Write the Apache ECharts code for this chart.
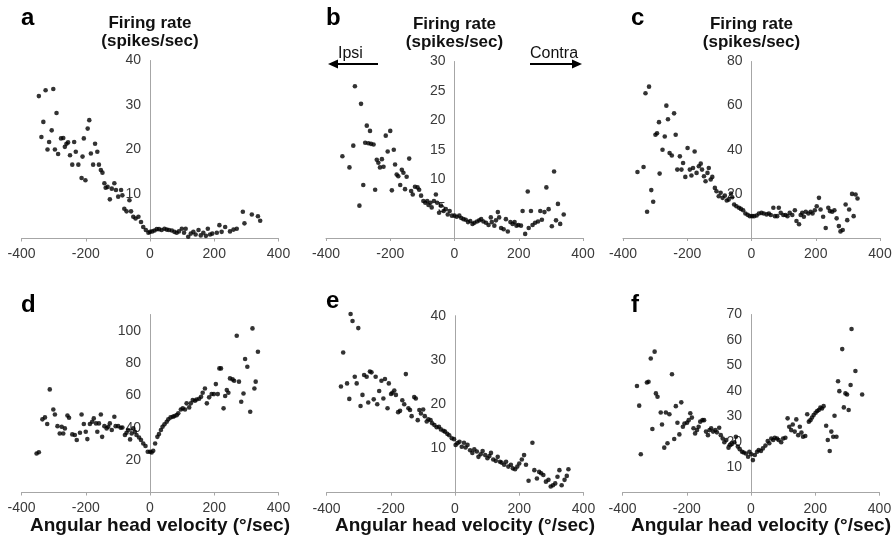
<!DOCTYPE html>
<html>
<head>
<meta charset="utf-8">
<script src="https://cdn.jsdelivr.net/npm/echarts@6/dist/echarts.min.js"></script>
<style>html,body{margin:0;padding:0;background:#fff}#c{width:894px;height:547px}</style>
</head>
<body>
<div id="c"></div>
<script>
// ---- data: [angular head velocity (deg/sec), firing rate (spikes/sec)] ----
var panelA = [[-346,32.0],[-325,33.3],[-301,33.6],[-332,26.2],[-338,22.8],[-291,28.2],[-306,24.3],[-314,21.7],[-319,20.0],[-296,20.0],[-286,19.0],[-277,22.5],[-270,22.6],[-265,20.6],[-260,21.3],[-255,21.6],[-249,18.7],[-242,16.6],[-236,21.7],[-231,19.5],[-223,16.6],[-213,13.6],[-210,18.4],[-206,22.5],[-201,13.1],[-194,24.7],[-189,26.6],[-184,19.1],[-177,16.6],[-171,21.3],[-164,19.5],[-159,16.6],[-153,15.4],[-148,14.8],[-142,12.4],[-138,11.4],[-132,11.6],[-125,8.8],[-119,11.2],[-111,12.4],[-106,10.9],[-99,9.4],[-90,10.9],[-86,9.7],[-80,6.7],[-73,6.1],[-64,8.6],[-59,6.1],[-52,4.9],[-45,4.5],[-36,4.9],[-28,3.7],[-21,2.6],[-13,1.9],[-5,1.3],[0,1.5],[7,1.6],[14,1.8],[21,2.1],[28,2.1],[36,1.9],[45,2.2],[52,2.0],[59,1.9],[68,1.8],[76,1.5],[83,1.3],[90,1.6],[99,2.2],[106,1.3],[111,2.2],[119,0.4],[127,1.1],[135,1.5],[142,0.9],[151,1.9],[158,0.7],[166,1.3],[174,0.6],[180,2.2],[187,0.9],[194,1.1],[208,1.3],[216,3.0],[223,1.5],[234,2.6],[249,1.6],[260,2.0],[270,2.2],[289,6.0],[294,3.4],[317,5.4],[336,5.0],[343,4.0]];
var panelB = [[-349,13.9],[-327,12.0],[-315,15.7],[-310,25.8],[-296,5.5],[-291,22.8],[-284,9.0],[-273,19.1],[-278,16.2],[-263,18.2],[-268,16.1],[-260,16.0],[-252,15.9],[-247,8.2],[-242,13.3],[-237,12.8],[-232,12.0],[-226,13.4],[-221,12.1],[-214,17.4],[-208,14.7],[-200,18.2],[-195,8.1],[-189,15.0],[-185,12.5],[-180,10.8],[-175,10.5],[-169,9.0],[-164,11.6],[-159,11.1],[-154,8.3],[-149,10.4],[-141,13.5],[-135,8.0],[-130,7.4],[-123,8.7],[-115,8.6],[-110,8.2],[-104,7.2],[-97,6.3],[-91,6.0],[-85,6.3],[-81,5.6],[-75,6.0],[-71,5.2],[-64,6.3],[-58,7.4],[-54,6.0],[-48,4.3],[-42,5.5],[-34,4.6],[-27,4.9],[-21,4.0],[-15,4.6],[-8,3.8],[0,3.8],[7,3.6],[15,3.8],[21,3.4],[28,3.2],[35,3.1],[42,2.7],[49,2.9],[56,2.4],[62,2.6],[70,2.8],[77,3.0],[83,3.2],[90,2.8],[98,2.6],[106,2.2],[113,3.5],[116,2.7],[124,2.1],[129,3.0],[135,4.4],[139,3.5],[145,1.7],[153,1.5],[160,3.2],[166,1.1],[174,2.7],[181,2.4],[187,2.7],[193,2.1],[199,2.2],[207,2.1],[212,4.6],[220,0.7],[228,7.9],[231,1.7],[238,4.6],[243,2.2],[251,2.6],[260,2.8],[267,4.6],[272,3.1],[280,4.4],[286,8.6],[293,4.9],[303,2.0],[310,11.3],[316,3.0],[322,5.8],[329,2.4],[340,4.0]];
var panelC = [[-355,29.9],[-336,32.2],[-330,65.6],[-319,68.6],[-325,11.9],[-312,21.7],[-306,16.4],[-286,29.2],[-299,46.8],[-294,47.5],[-288,52.5],[-277,40.0],[-270,46.0],[-265,60.0],[-260,53.8],[-255,38.5],[-248,37.4],[-241,56.5],[-236,46.8],[-231,31.0],[-223,37.0],[-218,31.0],[-213,34.0],[-206,27.7],[-199,40.8],[-192,31.0],[-187,28.3],[-177,39.2],[-182,31.7],[-171,29.5],[-164,32.5],[-158,33.7],[-154,31.0],[-148,28.0],[-143,25.7],[-137,29.5],[-133,31.7],[-127,26.5],[-122,27.7],[-114,22.7],[-109,21.2],[-102,18.9],[-96,20.5],[-90,18.2],[-83,19.2],[-77,17.0],[-71,17.4],[-64,20.2],[-60,18.5],[-54,15.2],[-47,14.4],[-39,13.7],[-33,13.2],[-26,12.6],[-19,11.1],[-12,10.5],[-5,9.9],[2,9.9],[8,9.9],[16,10.2],[23,11.1],[31,11.4],[38,11.1],[47,10.7],[54,11.1],[60,10.4],[68,13.7],[73,9.9],[80,9.9],[85,13.7],[91,11.4],[99,10.4],[106,10.4],[112,9.9],[119,11.4],[127,10.4],[135,12.6],[140,7.7],[148,6.2],[153,10.4],[158,11.4],[163,9.6],[169,11.9],[177,11.1],[184,11.9],[190,11.1],[197,12.6],[203,14.4],[210,18.2],[215,12.9],[223,9.6],[231,4.5],[239,13.7],[244,12.2],[251,11.9],[258,12.6],[265,8.9],[272,5.4],[277,3.0],[284,3.6],[293,15.2],[298,8.1],[304,12.9],[313,20.0],[318,9.9],[324,19.7],[330,17.9]];
var panelD = [[-353,24.1],[-346,24.9],[-335,45.2],[-327,46.4],[-320,42.3],[-312,63.7],[-301,51.3],[-296,48.2],[-288,41.0],[-281,36.5],[-275,40.6],[-270,36.5],[-265,39.6],[-257,47.6],[-252,46.2],[-242,35.9],[-234,35.5],[-228,32.4],[-218,36.9],[-213,48.2],[-206,42.3],[-200,37.5],[-195,33.0],[-187,42.3],[-180,43.7],[-175,45.8],[-168,42.7],[-164,37.5],[-159,42.7],[-153,48.2],[-149,34.4],[-142,41.0],[-135,39.6],[-130,40.6],[-125,42.7],[-119,38.6],[-111,46.8],[-107,41.0],[-99,41.0],[-91,40.0],[-86,40.2],[-78,35.5],[-73,36.9],[-68,38.6],[-62,32.8],[-57,36.5],[-52,39.6],[-47,37.5],[-42,35.5],[-34,34.0],[-28,32.4],[-21,30.3],[-14,28.7],[-7,25.2],[0,25.2],[5,24.7],[10,25.8],[16,30.3],[23,34.4],[28,36.1],[34,38.6],[39,40.6],[45,42.1],[52,43.7],[57,45.2],[64,46.4],[71,46.8],[76,47.2],[83,47.8],[88,48.9],[96,51.3],[102,52.0],[109,51.3],[114,55.1],[122,52.6],[127,55.1],[133,57.1],[140,56.7],[145,57.5],[153,57.9],[159,59.2],[164,61.6],[171,64.3],[177,55.1],[184,58.8],[192,60.8],[199,60.8],[205,67.0],[211,60.8],[216,76.7],[221,76.7],[229,52.0],[234,59.6],[239,63.3],[244,61.6],[249,70.5],[257,69.9],[262,69.1],[270,96.9],[277,68.5],[284,56.1],[291,61.2],[296,82.5],[303,77.7],[312,49.9],[319,101.4],[325,64.3],[329,68.5],[336,87.0]];
var panelE = [[-355,24.0],[-348,31.7],[-336,24.7],[-329,21.2],[-325,40.4],[-319,38.8],[-312,26.2],[-306,24.7],[-301,37.2],[-294,19.6],[-288,22.1],[-283,26.6],[-275,26.2],[-270,20.4],[-265,27.4],[-260,27.2],[-253,21.1],[-247,26.2],[-242,20.0],[-236,23.0],[-229,25.3],[-223,21.3],[-218,25.7],[-210,19.1],[-206,24.7],[-199,22.3],[-195,22.6],[-189,23.1],[-184,22.1],[-177,18.2],[-171,18.5],[-164,20.9],[-158,20.0],[-153,26.8],[-145,19.1],[-140,18.7],[-135,17.3],[-127,21.6],[-122,21.3],[-116,16.4],[-111,18.7],[-106,17.9],[-99,18.8],[-94,17.3],[-88,16.1],[-83,16.6],[-76,16.4],[-71,15.7],[-64,15.3],[-57,14.8],[-50,14.9],[-44,14.3],[-36,14.0],[-31,13.8],[-24,13.3],[-18,13.0],[-10,12.3],[-3,12.1],[2,10.8],[8,11.2],[14,11.5],[21,10.4],[28,11.3],[33,10.2],[39,10.8],[47,9.6],[54,9.0],[60,9.8],[68,9.3],[73,8.1],[80,8.7],[86,9.4],[94,8.5],[101,7.8],[107,8.3],[112,9.0],[119,7.5],[127,7.2],[133,8.1],[140,7.0],[145,6.8],[153,6.3],[159,7.0],[166,5.9],[174,6.3],[180,5.5],[187,5.3],[194,5.9],[200,6.6],[208,7.5],[215,8.5],[221,6.3],[229,2.7],[241,11.3],[247,5.1],[255,3.2],[262,4.7],[268,4.4],[275,4.0],[283,2.5],[291,2.9],[298,1.4],[305,1.7],[312,2.1],[319,3.6],[325,5.1],[332,1.7],[341,2.9],[348,3.8],[353,5.3]];
var panelF = [[-355,41.9],[-348,34.2],[-343,15.1],[-324,43.3],[-319,43.6],[-312,52.7],[-300,55.4],[-307,25.0],[-296,39.0],[-291,37.7],[-281,31.5],[-277,26.8],[-270,17.7],[-265,31.5],[-260,19.4],[-254,30.8],[-246,46.5],[-239,21.1],[-234,34.0],[-229,27.5],[-223,22.9],[-217,35.5],[-212,25.9],[-207,27.2],[-199,27.5],[-194,28.5],[-189,31.2],[-184,29.5],[-179,25.3],[-174,23.3],[-168,24.6],[-163,25.9],[-158,27.9],[-151,28.5],[-146,28.5],[-140,24.0],[-134,22.6],[-129,24.6],[-124,25.3],[-118,24.0],[-111,24.6],[-106,23.7],[-99,25.5],[-94,22.6],[-88,21.3],[-83,19.8],[-77,20.7],[-70,17.7],[-64,18.7],[-59,19.4],[-52,19.8],[-47,22.0],[-41,18.1],[-35,17.1],[-28,16.1],[-23,15.8],[-16,15.4],[-9,14.1],[-5,16.1],[1,15.1],[6,12.8],[12,14.8],[19,16.1],[24,16.8],[31,16.4],[37,17.4],[45,18.5],[52,20.3],[57,19.4],[63,21.3],[69,20.7],[74,21.6],[81,21.3],[86,20.7],[94,19.8],[100,21.3],[107,21.6],[114,29.2],[119,25.9],[125,24.6],[130,26.8],[136,24.0],[141,28.8],[147,22.6],[152,25.9],[157,23.6],[162,22.0],[169,22.3],[175,30.8],[180,27.9],[185,28.5],[190,29.5],[195,30.5],[201,31.4],[206,32.1],[211,32.5],[216,33.4],[221,33.1],[226,34.0],[234,26.3],[239,20.7],[245,16.4],[250,24.0],[256,22.0],[260,30.2],[266,22.0],[271,43.8],[275,39.9],[284,56.4],[289,33.5],[294,39.0],[299,38.6],[304,32.5],[310,42.3],[313,64.3],[325,47.8],[346,38.6]];

var panelLetters = ['a','b','c','d','e','f'];
var yMax = [40, 30, 80, 110, 40, 70];
var yInterval = [10, 5, 20, 20, 10, 10];
var xMin = -400, xMax = 400, xInterval = 200;
var yTitle = 'Firing rate\n(spikes/sec)';
var xTitle = 'Angular head velocity (\u00b0/sec)';

var panels = [panelA, panelB, panelC, panelD, panelE, panelF];

var gridBoxes = [
  {left: 21.5, top: 60.5, width: 257, height: 178},
  {left: 326, top: 61.5, width: 257, height: 176.5},
  {left: 623, top: 61.5, width: 257, height: 176.5},
  {left: 21.5, top: 314.5, width: 257, height: 178},
  {left: 326.5, top: 315.7, width: 257, height: 177},
  {left: 622.5, top: 314.5, width: 257, height: 178.2}
];

var labelColor = '#3a3a3a';
var axisColor = '#a6a6a6';
var font = 'Liberation Sans, Arial, sans-serif';

var option = {
  animation: false,
  backgroundColor: '#ffffff',
  textStyle: {fontFamily: font},
  grid: gridBoxes.map(function (g) { return Object.assign({containLabel: false, outerBoundsMode: 'none'}, g); }),
  xAxis: panels.map(function (p, i) {
    var bottom = i >= 3;
    return {
      type: 'value', gridIndex: i, min: xMin, max: xMax, interval: xInterval,
      splitLine: {show: false},
      axisLine: {onZero: false, lineStyle: {color: axisColor, width: 1}},
      axisTick: {show: true, length: 3, lineStyle: {color: axisColor}},
      axisLabel: {color: labelColor, fontSize: 14, margin: 9, fontFamily: font},
      name: bottom ? xTitle : '',
      nameLocation: 'middle', nameGap: 23,
      nameTextStyle: {fontWeight: 'bold', fontSize: 19, color: '#111', fontFamily: font, padding: [0, 0, 0, 20]}
    };
  }),
  yAxis: panels.map(function (p, i) {
    var top = i < 3;
    return {
      type: 'value', gridIndex: i, min: 0, max: yMax[i], interval: yInterval[i],
      position: 'left',
      offset: -gridBoxes[i].width / 2,
      splitLine: {show: false},
      axisLine: {onZero: false, lineStyle: {color: axisColor, width: 1}},
      axisTick: {show: false},
      axisLabel: {
        color: labelColor, fontSize: 14, margin: 9, fontFamily: font,
        formatter: function (v) { return (v === 0 || v % yInterval[i] !== 0) ? '' : String(v); }
      },
      name: top ? yTitle : '',
      nameLocation: 'end', nameGap: 10,
      nameTextStyle: {fontWeight: 'bold', fontSize: 17, lineHeight: 18, color: '#111', fontFamily: font, align: 'center'}
    };
  }),
  series: panels.map(function (p, i) {
    return {
      type: 'scatter', xAxisIndex: i, yAxisIndex: i, data: p,
      symbol: 'circle', symbolSize: 4.6,
      itemStyle: {color: '#000'}, clip: false, silent: true
    };
  }),
  graphic: [
    {type: 'text', left: 21, top: 6, style: {text: panelLetters[0], font: 'bold 24px ' + font, fill: '#000'}},
    {type: 'text', left: 326, top: 6, style: {text: panelLetters[1], font: 'bold 24px ' + font, fill: '#000'}},
    {type: 'text', left: 631, top: 6, style: {text: panelLetters[2], font: 'bold 24px ' + font, fill: '#000'}},
    {type: 'text', left: 21, top: 293, style: {text: panelLetters[3], font: 'bold 24px ' + font, fill: '#000'}},
    {type: 'text', left: 326, top: 289, style: {text: panelLetters[4], font: 'bold 24px ' + font, fill: '#000'}},
    {type: 'text', left: 631, top: 293, style: {text: panelLetters[5], font: 'bold 24px ' + font, fill: '#000'}},
    {type: 'text', left: 338, top: 46, style: {text: 'Ipsi', font: '16px ' + font, fill: '#111'}},
    {type: 'text', left: 530, top: 46, style: {text: 'Contra', font: '16px ' + font, fill: '#111'}},
    {type: 'line', shape: {x1: 336, y1: 64, x2: 378, y2: 64}, style: {stroke: '#000', lineWidth: 2}},
    {type: 'polygon', shape: {points: [[328, 64], [338, 59.5], [338, 68.5]]}, style: {fill: '#000'}},
    {type: 'line', shape: {x1: 530, y1: 64, x2: 574, y2: 64}, style: {stroke: '#000', lineWidth: 2}},
    {type: 'polygon', shape: {points: [[582, 64], [572, 59.5], [572, 68.5]]}, style: {fill: '#000'}}
  ]
};

var chart = echarts.init(document.getElementById('c'), null, {renderer: 'canvas'});
chart.setOption(option);
</script>
</body>
</html>
